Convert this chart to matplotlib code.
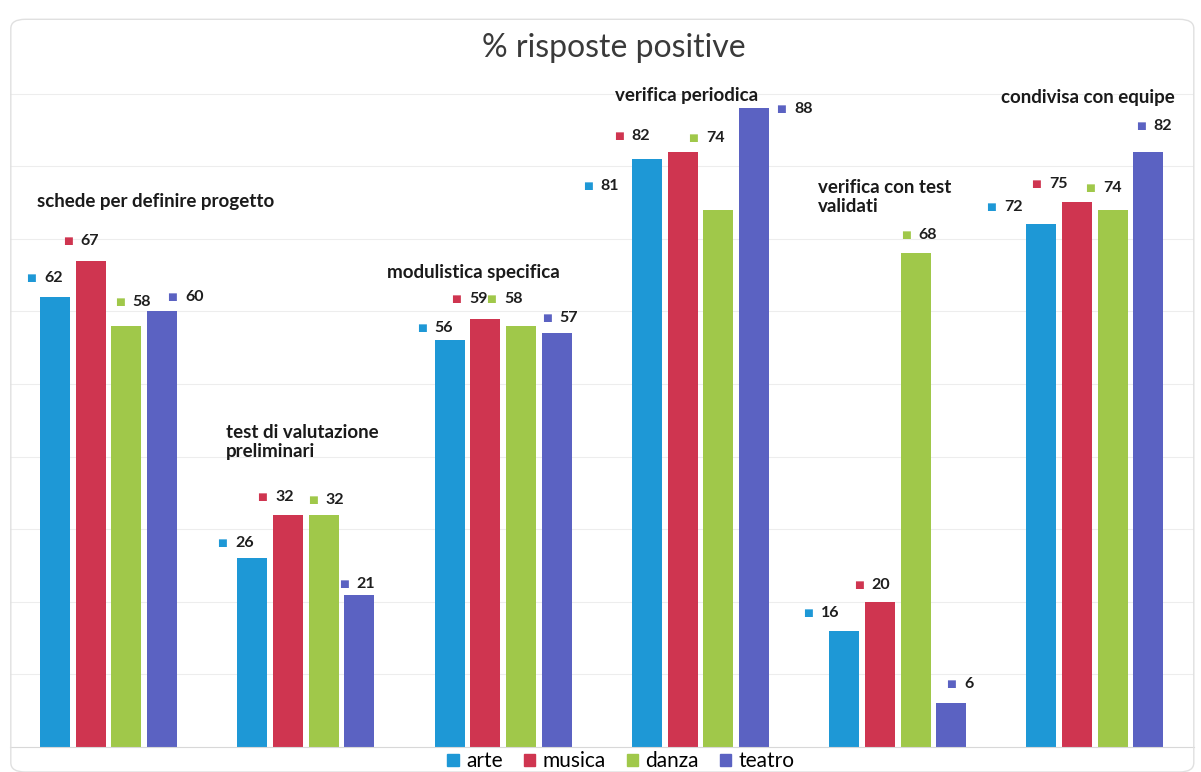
import numpy as np
import matplotlib.pyplot as plt
from matplotlib.patches import FancyBboxPatch, Patch

plt.rcParams['font.family'] = ['Lato', 'DejaVu Sans']

# dati
gruppi = ['schede per definire progetto', 'test di valutazione\npreliminari',
          'modulistica specifica', 'verifica periodica',
          'verifica con test\nvalidati', 'condivisa con equipe']
serie = ['arte', 'musica', 'danza', 'teatro']
arte = [62, 26, 56, 81, 16, 72]
musica = [67, 32, 59, 82, 20, 75]
danza = [58, 32, 58, 74, 68, 74]
teatro = [60, 21, 57, 88, 6, 82]
colori = ['#1e98d6', '#cf3550', '#a0c84a', '#5b62c2']

# posizione dei titoli dei gruppi (coordinate dati)
pos_titoli = [(-0.363, 75.1), (0.596, 42.0), (1.412, 65.4),
              (2.568, 89.8), (3.598, 75.7), (4.526, 89.5)]

# spostamento etichette (pixel, dal centro della cima della barra)
off_etichette = [
    [(-24, 19), (-23, 20), (-7, 24), (10, 14)],
    [(-30, 15), (-26, 18), (-11, 15), (-16, 11)],
    [(-28, 12), (-29, 20), (-30, 27), (-10, 15)],
    [(-59, -27), (-64, 16), (-25, 72), (27, -1)],
    [(-36, 18), (-21, 17), (-10, 18), (0, 19)],
    [(-50, 17), (-41, 18), (-23, 22), (-8, 26)],
]

fig = plt.figure(figsize=(12.01, 7.72), dpi=100)
ax = fig.add_axes([0.0083, 0.0324, 0.9855, 0.9404])

# cornice arrotondata
fig.patches.append(FancyBboxPatch((0.009, 0.0), 0.985, 0.975, boxstyle='round,pad=0,rounding_size=0.012',
                                  transform=fig.transFigure, fill=False, edgecolor='#e0e0e0', lw=1))

x = np.arange(len(gruppi))
larg = 0.152
passo = 0.181
valori = [arte, musica, danza, teatro]
for j, (nome, vals, col) in enumerate(zip(serie, valori, colori)):
    xs = x + (j - 1.5) * passo
    ax.bar(xs, vals, width=larg, color=col, label=nome, zorder=2)
    for i, v in enumerate(vals):
        dx, dy = off_etichette[i][j]
        ax.annotate('■', xy=(xs[i], v), xytext=(dx, dy), textcoords='offset pixels',
                    ha='center', va='center', color=col, fontsize=7.5,
                    family=['DejaVu Sans'])
        ax.annotate(str(v), xy=(xs[i], v), xytext=(dx + 13, dy), textcoords='offset pixels',
                    ha='left', va='center', color='#1e1e1e', fontsize=11.5, fontweight='bold')

for (tx, ty), t in zip(pos_titoli, gruppi):
    ax.text(tx, ty, t, ha='left', va='center', fontsize=13.5, fontweight='bold',
            color='#1a1a1a', linespacing=1.15)

ax.set_xlim(-0.5, 5.5)
ax.set_ylim(0, 100)
ax.set_yticks(np.arange(10, 100, 10))
ax.grid(axis='y', color='#ededed', lw=0.8, zorder=0)
ax.set_xticks([])
ax.tick_params(left=False, labelleft=False)
for s in ['top', 'right', 'left']:
    ax.spines[s].set_visible(False)
ax.spines['bottom'].set_color('#d8d8d8')
ax.patch.set_alpha(0)

fig.text(0.511, 0.938, '% risposte positive', ha='center', va='center', fontsize=23, color='#3a3a3a')

maniglie = [Patch(color=c) for c in colori]
fig.legend(maniglie, serie, loc='center', bbox_to_anchor=(0.517, 0.014), ncol=4, frameon=False,
           fontsize=15, handlelength=0.55, handleheight=0.55, handletextpad=0.35, columnspacing=1.0,
           borderpad=0)

fig.savefig('out.png', dpi=100)
